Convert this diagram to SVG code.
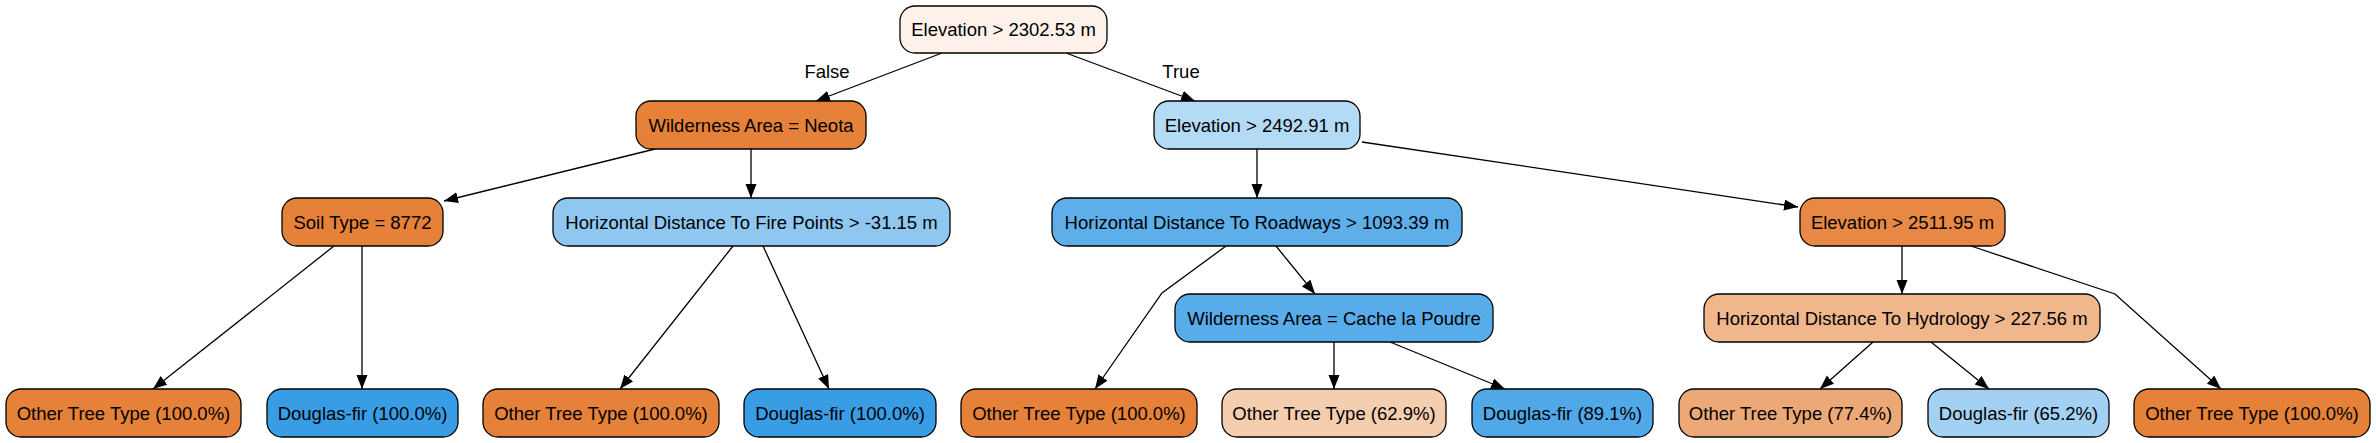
<svg xmlns="http://www.w3.org/2000/svg" width="2376" height="443" viewBox="0 0 2376 443">
<defs>
<marker id="arr" markerUnits="userSpaceOnUse" markerWidth="16" markerHeight="12" refX="14" refY="5.5" orient="auto">
<path d="M0,0 L14,5.5 L0,11 Z" fill="#000"/>
</marker>
<style>
.n rect{stroke:#000;stroke-width:1.3}
.n text{font-family:"Liberation Sans",Arial,sans-serif;font-size:18.5px;fill:#000;text-anchor:middle}
.e path{fill:none;stroke:#000;stroke-width:1.3;marker-end:url(#arr)}
.lbl{font-family:"Liberation Sans",Arial,sans-serif;font-size:18.5px;fill:#000;text-anchor:middle}
</style>
</defs>
<rect width="2376" height="443" fill="#fff"/>
<g id="edges" class="e">
<path d="M942,53 L816,101"/>
<path d="M1066,53 L1195,101"/>
<path d="M655,149 L444,201"/>
<path d="M751,149 L751,198"/>
<path d="M334,246 L153,389"/>
<path d="M362,246 L362,389"/>
<path d="M733,246 L620,389"/>
<path d="M763,246 L829,389"/>
<path d="M1257,149 L1257,198"/>
<path d="M1362,142 L1798,207"/>
<path d="M1226,246 L1162,293 L1095,389"/>
<path d="M1276,246 L1315,294"/>
<path d="M1902,246 L1902,294"/>
<path d="M1971,246 L2115,294 L2221,389"/>
<path d="M1334,342 L1334,389"/>
<path d="M1390,342 L1505,389"/>
<path d="M1873,342 L1820,389"/>
<path d="M1931,342 L1989,389"/>
</g>
<text class="lbl" x="827" y="78">False</text>
<text class="lbl" x="1181" y="78">True</text>
<g id="root" class="n"><rect x="900" y="6" width="207" height="47" rx="15" fill="#fdf1ea"/><text x="1003.5" y="36">Elevation &gt; 2302.53 m</text></g>
<g id="neota" class="n"><rect x="636" y="101" width="230" height="48" rx="15" fill="#e58139"/><text x="751" y="131.5">Wilderness Area = Neota</text></g>
<g id="elev2492" class="n"><rect x="1154" y="101" width="206" height="48" rx="15" fill="#b4dbf5"/><text x="1257" y="131.5">Elevation &gt; 2492.91 m</text></g>
<g id="soil" class="n"><rect x="282" y="198" width="161" height="48" rx="15" fill="#e58139"/><text x="362.5" y="228.5">Soil Type = 8772</text></g>
<g id="hdfire" class="n"><rect x="553" y="198" width="397" height="48" rx="15" fill="#8fc7f0"/><text x="751.5" y="228.5">Horizontal Distance To Fire Points &gt; -31.15 m</text></g>
<g id="hdroad" class="n"><rect x="1052" y="198" width="410" height="48" rx="15" fill="#5eaeea"/><text x="1257" y="228.5">Horizontal Distance To Roadways &gt; 1093.39 m</text></g>
<g id="elev2511" class="n"><rect x="1800" y="198" width="205" height="48" rx="15" fill="#e78845"/><text x="1902.5" y="228.5">Elevation &gt; 2511.95 m</text></g>
<g id="cache" class="n"><rect x="1175" y="294" width="318" height="48" rx="15" fill="#58acea"/><text x="1334" y="324.5">Wilderness Area = Cache la Poudre</text></g>
<g id="hydro" class="n"><rect x="1704" y="294" width="396" height="48" rx="15" fill="#f0b68c"/><text x="1902" y="324.5">Horizontal Distance To Hydrology &gt; 227.56 m</text></g>
<g id="leaf1" class="n"><rect x="6" y="389" width="235" height="48" rx="15" fill="#e58139"/><text x="123.5" y="419.5">Other Tree Type (100.0%)</text></g>
<g id="leaf2" class="n"><rect x="267" y="389" width="191" height="48" rx="15" fill="#399de5"/><text x="362.5" y="419.5">Douglas-fir (100.0%)</text></g>
<g id="leaf3" class="n"><rect x="483" y="389" width="236" height="48" rx="15" fill="#e58139"/><text x="601" y="419.5">Other Tree Type (100.0%)</text></g>
<g id="leaf4" class="n"><rect x="744" y="389" width="192" height="48" rx="15" fill="#399de5"/><text x="840" y="419.5">Douglas-fir (100.0%)</text></g>
<g id="leaf5" class="n"><rect x="961" y="389" width="236" height="48" rx="15" fill="#e58139"/><text x="1079" y="419.5">Other Tree Type (100.0%)</text></g>
<g id="leaf6" class="n"><rect x="1222" y="389" width="224" height="48" rx="15" fill="#f5cdaf"/><text x="1334" y="419.5">Other Tree Type (62.9%)</text></g>
<g id="leaf7" class="n"><rect x="1472" y="389" width="181" height="48" rx="15" fill="#51a8e8"/><text x="1562.5" y="419.5">Douglas-fir (89.1%)</text></g>
<g id="leaf8" class="n"><rect x="1679" y="389" width="223" height="48" rx="15" fill="#eda877"/><text x="1790.5" y="419.5">Other Tree Type (77.4%)</text></g>
<g id="leaf9" class="n"><rect x="1928" y="389" width="181" height="48" rx="15" fill="#a3d1f3"/><text x="2018.5" y="419.5">Douglas-fir (65.2%)</text></g>
<g id="leaf10" class="n"><rect x="2134" y="389" width="236" height="48" rx="15" fill="#e58139"/><text x="2252" y="419.5">Other Tree Type (100.0%)</text></g>
</svg>
